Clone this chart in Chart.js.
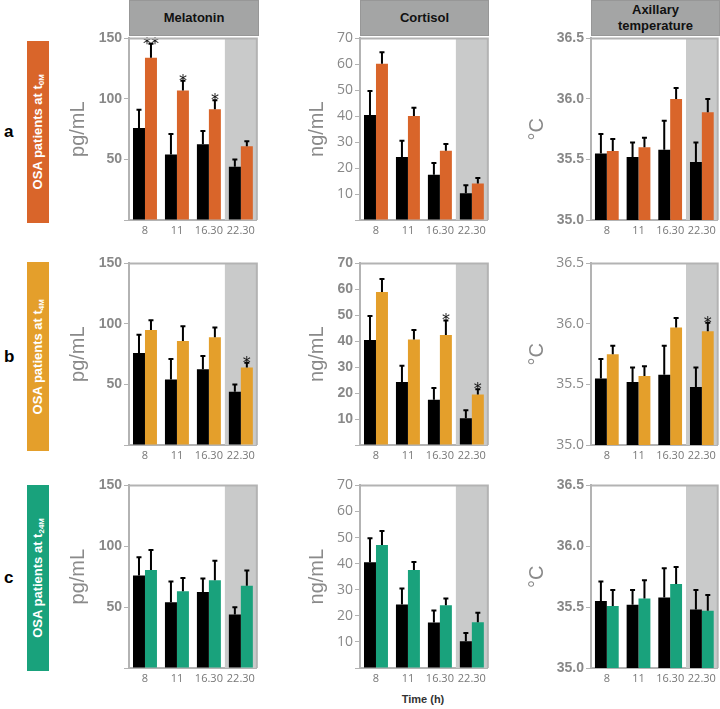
<!DOCTYPE html>
<html>
<head>
<meta charset="utf-8">
<script src="https://cdn.jsdelivr.net/npm/chart.js@4"></script>
<style>
  html, body { margin: 0; padding: 0; background: #fff; overflow: hidden; }
  #fig { position: relative; width: 720px; height: 709px; font-family: "Liberation Sans", Arial, sans-serif; }
  #fig canvas { position: absolute; }
  .head { position: absolute; top: 0; height: 36px; background: #a4a5a5; border: 1px solid #979797; box-sizing: border-box;
          display: flex; align-items: center; justify-content: center; text-align: center;
          font-weight: bold; font-size: 13px; line-height: 16px; color: #111; }
  .group { position: absolute; left: 27px; width: 22px; color: #fff; font-weight: bold; font-size: 13px;
           display: flex; align-items: center; justify-content: center; }
  .group span { writing-mode: vertical-rl; transform: rotate(180deg); white-space: nowrap; }
  .group sub { font-size: 8px; }
  .letter { position: absolute; left: 4px; font-weight: bold; font-size: 17px; color: #000; }
  #xlab { position: absolute; left: 383px; top: 693px; width: 80px; text-align: center; font-weight: bold; font-size: 11px; color: #333; }
</style>
</head>
<body>
<div id="fig">
  <div class="head" style="left:129px;width:130px;">Melatonin</div>
  <div class="head" style="left:360px;width:129px;">Cortisol</div>
  <div class="head" style="left:591px;width:129px;">Axillary<br>temperature</div>

  <div class="group" style="top:41px;height:182px;background:#d9652a;"><span>OSA patients at t<sub>0M</sub></span></div>
  <div class="group" style="top:262px;height:189px;background:#e49f2b;"><span>OSA patients at t<sub>4M</sub></span></div>
  <div class="group" style="top:485px;height:186px;background:#19a27c;"><span>OSA patients at t<sub>24M</sub></span></div>
  <div class="letter" style="top:122px;">a</div>
  <div class="letter" style="top:347px;">b</div>
  <div class="letter" style="top:568px;">c</div>
  <div id="xlab">Time (h)</div>

  <canvas id="a1" width="200" height="216" style="left:59px;top:28px;"></canvas>
  <canvas id="a2" width="200" height="216" style="left:290px;top:28px;"></canvas>
  <canvas id="a3" width="199" height="216" style="left:521px;top:28px;"></canvas>
  <canvas id="b1" width="200" height="216" style="left:59px;top:253px;"></canvas>
  <canvas id="b2" width="200" height="216" style="left:290px;top:253px;"></canvas>
  <canvas id="b3" width="199" height="216" style="left:521px;top:253px;"></canvas>
  <canvas id="c1" width="200" height="217" style="left:59px;top:475px;"></canvas>
  <canvas id="c2" width="200" height="217" style="left:290px;top:475px;"></canvas>
  <canvas id="c3" width="199" height="217" style="left:521px;top:475px;"></canvas>
</div>

<script>
// time points (h)
const timeLabels = ['8', '11', '16.30', '22.30'];

// controls (black bars), same in every row
const melControl = [76, 54, 62.5, 44];
const melControlErr = [15, 17, 11, 6];
const cortControl = [40.5, 24.3, 17.4, 10.3];
const cortControlErr = [9.2, 6.2, 4.6, 3.1];
const tempControl = [35.55, 35.52, 35.58, 35.48];
const tempControlErr = [0.16, 0.12, 0.24, 0.16];

// OSA patients at t0M
const mel0 = [134, 107, 91.5, 61];
const mel0Err = [11.5, 8, 7.5, 4];
const mel0Stars = ['**', '*', '*', ''];
const cort0 = [60.2, 40.1, 26.7, 14.1];
const cort0Err = [4.5, 3.2, 2.6, 2.1];
const cort0Stars = ['', '', '', ''];
const temp0 = [35.57, 35.6, 36.0, 35.89];
const temp0Err = [0.1, 0.08, 0.09, 0.11];
const temp0Stars = ['', '', '', ''];

// OSA patients at t4M
const mel4 = [95, 86, 89, 64];
const mel4Err = [8, 12, 8, 4];
const mel4Stars = ['', '', '', '*'];
const cort4 = [59, 40.7, 42.4, 19.5];
const cort4Err = [5, 3.6, 5.6, 2];
const cort4Stars = ['', '', '*', '*'];
const temp4 = [35.75, 35.57, 35.97, 35.94];
const temp4Err = [0.07, 0.08, 0.08, 0.07];
const temp4Stars = ['', '', '', '*'];

// OSA patients at t24M
const mel24 = [80.5, 63, 72, 67.5];
const mel24Err = [16.5, 11, 16, 12.5];
const cort24 = [47.2, 37.6, 24.1, 17.5];
const cort24Err = [5.3, 3, 2.5, 3.7];
const temp24 = [35.51, 35.57, 35.69, 35.47];
const temp24Err = [0.13, 0.15, 0.14, 0.13];
const noStars = ['', '', '', ''];

const rowColors = { a: '#d9652a', b: '#e49f2b', c: '#19a27c' };

const boldTicks = { family: '"Liberation Sans", Arial, sans-serif', size: 14, weight: 'bold' };
const lightTicks = { family: '"Open Sans", "Noto Sans", sans-serif', size: 14, weight: 'normal' };

// grey band behind the evening time point
const nightShade = {
  id: 'nightShade',
  beforeDatasetsDraw(chart) {
    const { ctx, chartArea, scales } = chart;
    const step = scales.x.getPixelForValue(1) - scales.x.getPixelForValue(0);
    const left = scales.x.getPixelForValue(3) - step / 2;
    ctx.save();
    ctx.fillStyle = '#c9caca';
    ctx.fillRect(left, chartArea.top, chartArea.right - left, chartArea.bottom - chartArea.top);
    ctx.restore();
  }
};

// upper error bars + significance stars
const errorBars = {
  id: 'errorBars',
  afterDatasetsDraw(chart) {
    const { ctx, scales } = chart;
    ctx.save();
    chart.data.datasets.forEach((ds, i) => {
      const meta = chart.getDatasetMeta(i);
      meta.data.forEach((bar, j) => {
        const top = scales.y.getPixelForValue(ds.data[j] + ds.errors[j]);
        ctx.strokeStyle = '#000';
        ctx.lineWidth = 2;
        ctx.beginPath();
        ctx.moveTo(bar.x, bar.y);
        ctx.lineTo(bar.x, top);
        ctx.moveTo(bar.x - 2.5, top);
        ctx.lineTo(bar.x + 2.5, top);
        ctx.stroke();
        if (ds.stars && ds.stars[j]) {
          ctx.fillStyle = '#111';
          ctx.font = '16px "DejaVu Sans", sans-serif';
          ctx.textAlign = 'center';
          ctx.textBaseline = 'alphabetic';
          ctx.fillText(ds.stars[j], bar.x, top + 5);
        }
      });
    });
    ctx.restore();
  }
};

// top and right edge of the plot frame
const frame = {
  id: 'frame',
  afterDraw(chart) {
    const { ctx, chartArea } = chart;
    ctx.save();
    ctx.strokeStyle = '#b3b3b3';
    ctx.lineWidth = 2;
    ctx.beginPath();
    ctx.moveTo(chartArea.left, chartArea.top);
    ctx.lineTo(chartArea.right, chartArea.top);
    ctx.lineTo(chartArea.right, chartArea.bottom);
    ctx.stroke();
    ctx.restore();
  }
};

function makePanel(id, cfg) {
  new Chart(document.getElementById(id), {
    type: 'bar',
    data: {
      labels: timeLabels,
      datasets: [
        { data: cfg.control, errors: cfg.controlErr, backgroundColor: '#000' },
        { data: cfg.values, errors: cfg.errors, stars: cfg.stars, backgroundColor: cfg.color }
      ]
    },
    options: {
      responsive: false,
      animation: false,
      devicePixelRatio: 1,
      layout: { padding: { top: 10, right: 1, bottom: 0, left: 0 } },
      datasets: { bar: { barPercentage: 1, categoryPercentage: 0.75, borderWidth: 0 } },
      plugins: { legend: { display: false }, tooltip: { enabled: false } },
      scales: {
        x: {
          ticks: { color: '#777', font: { family: '"Open Sans", "Noto Sans", sans-serif', size: 11 }, padding: 4, maxRotation: 0, autoSkip: false },
          grid: { drawOnChartArea: false, drawTicks: false },
          border: { color: '#b3b3b3', width: 2 },
          afterFit: s => { s.height = 24; }
        },
        y: {
          min: cfg.min, max: cfg.max,
          ticks: { stepSize: cfg.step, color: '#888', font: cfg.tickFont, padding: 2, callback: cfg.fmt },
          grid: { drawOnChartArea: false, drawTicks: true, tickLength: 5, color: '#b3b3b3' },
          border: { color: '#b3b3b3', width: 2 },
          title: { display: true, text: cfg.unit, color: '#8a8a8a',
                   font: { family: '"Liberation Sans", Arial, sans-serif', size: 20 }, padding: { top: cfg.titlePad, bottom: 0 } },
          afterFit: s => { s.width = 70; }
        }
      }
    },
    plugins: [nightShade, errorBars, frame]
  });
}

const hideZero = v => (v === 0 ? '' : v);
const oneDec = v => v.toFixed(1);

const melatonin = { min: 0, max: 150, step: 50, unit: 'pg/mL', fmt: hideZero, titlePad: 7 };
const cortisol = { min: 0, max: 70, step: 10, unit: 'ng/mL', fmt: hideZero, titlePad: 15 };
const temperature = { min: 35, max: 36.5, step: 0.5, unit: '°C', fmt: oneDec, titlePad: 4 };

const rows = [
  { row: 'a', mel: [mel0, mel0Err, mel0Stars], cort: [cort0, cort0Err, cort0Stars], temp: [temp0, temp0Err, temp0Stars], fonts: [boldTicks, lightTicks, boldTicks] },
  { row: 'b', mel: [mel4, mel4Err, mel4Stars], cort: [cort4, cort4Err, cort4Stars], temp: [temp4, temp4Err, temp4Stars], fonts: [boldTicks, boldTicks, lightTicks] },
  { row: 'c', mel: [mel24, mel24Err, noStars], cort: [cort24, cort24Err, noStars], temp: [temp24, temp24Err, noStars], fonts: [boldTicks, lightTicks, boldTicks] }
];

rows.forEach(r => {
  const color = rowColors[r.row];
  makePanel(r.row + '1', Object.assign({}, melatonin, { control: melControl, controlErr: melControlErr,
    values: r.mel[0], errors: r.mel[1], stars: r.mel[2], color, tickFont: r.fonts[0] }));
  makePanel(r.row + '2', Object.assign({}, cortisol, { control: cortControl, controlErr: cortControlErr,
    values: r.cort[0], errors: r.cort[1], stars: r.cort[2], color, tickFont: r.fonts[1] }));
  makePanel(r.row + '3', Object.assign({}, temperature, { control: tempControl, controlErr: tempControlErr,
    values: r.temp[0], errors: r.temp[1], stars: r.temp[2], color, tickFont: r.fonts[2] }));
});
</script>
</body>
</html>
